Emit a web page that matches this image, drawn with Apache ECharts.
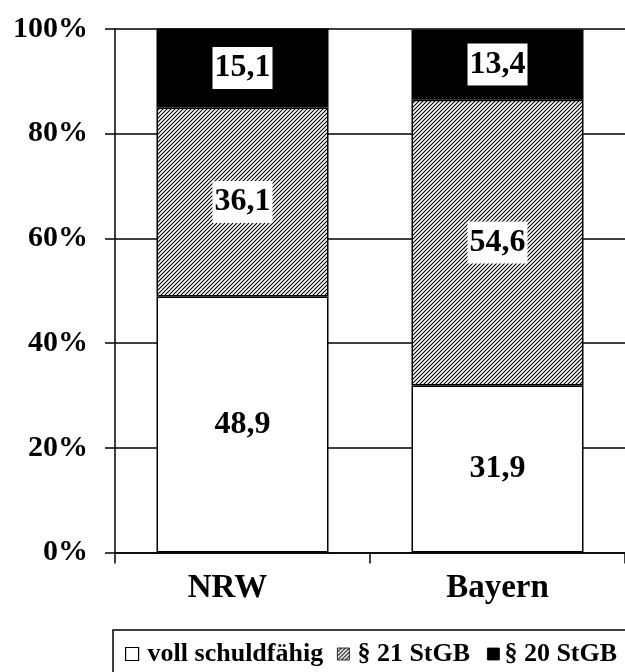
<!DOCTYPE html>
<html>
<head>
<meta charset="utf-8">
<script src="https://cdn.jsdelivr.net/npm/echarts@6/dist/echarts.min.js"></script>
<style>html,body{margin:0;padding:0;background:#fff}#c{width:625px;height:672px}</style>
</head>
<body>
<div id="c"></div>
<script>
var categories = ['NRW', 'Bayern'];
var seriesNames = ['voll schuldfähig', '§ 21 StGB', '§ 20 StGB'];
var vollSchuldfaehig = [48.9, 31.9];
var par21 = [36.1, 54.6];
var par20 = [15.1, 13.4];
var yTicks = [0, 20, 40, 60, 80, 100];

var FONT = '"Liberation Serif", "Times New Roman", serif';

function hatch() {
  var c = document.createElement('canvas');
  c.width = 4; c.height = 4;
  var g = c.getContext('2d');
  g.fillStyle = '#fff'; g.fillRect(0, 0, 4, 4);
  g.strokeStyle = '#000'; g.lineWidth = 1.1;
  g.beginPath();
  g.moveTo(-1, 5); g.lineTo(5, -1);
  g.moveTo(-1, 1); g.lineTo(1, -1);
  g.moveTo(3, 5); g.lineTo(5, 3);
  g.stroke();
  return c;
}
var hatchColor = { image: hatch(), repeat: 'repeat' };

function fmt(p) { return String(p.value).replace('.', ','); }

var boxLabel = {
  show: true, position: 'inside', formatter: fmt,
  fontFamily: FONT, fontWeight: 'bold', fontSize: 32, color: '#000',
  backgroundColor: '#fff', padding: [6, 2, 4, 2], lineHeight: 32
};

var legendText = { fontFamily: FONT, fontWeight: 'bold', fontSize: 26, color: '#000' };

var chart = echarts.init(document.getElementById('c'));
chart.setOption({
  animation: false,
  backgroundColor: '#fff',
  grid: { left: 115, top: 29, right: -4, bottom: 119.5 },
  graphic: [{
    type: 'rect', shape: { x: 113, y: 630, width: 530, height: 60 },
    style: { fill: 'none', stroke: '#000', lineWidth: 1.5 }, z: 1
  }],
  legend: [
    { data: [seriesNames[0]], left: 125, top: 641, padding: 0, icon: 'rect', itemWidth: 13, itemHeight: 13, itemGap: 0,
      textStyle: Object.assign({ padding: [0, 0, 0, 4] }, legendText),
      itemStyle: { color: '#fff', borderColor: '#000', borderWidth: 1.2 } },
    { data: [seriesNames[1]], left: 337, top: 641, padding: 0, icon: 'rect', itemWidth: 12, itemHeight: 12, itemGap: 0,
      textStyle: Object.assign({ padding: [0, 0, 0, 3] }, legendText),
      itemStyle: { color: hatchColor, borderColor: '#000', borderWidth: 0.8 } },
    { data: [seriesNames[2]], left: 487, top: 641, padding: 0, icon: 'rect', itemWidth: 12, itemHeight: 12, itemGap: 0,
      textStyle: Object.assign({ padding: [0, 0, 0, 0] }, legendText),
      itemStyle: { color: '#000', borderColor: '#000', borderWidth: 0.8 } }
  ],
  xAxis: {
    type: 'category',
    data: [{ value: categories[0], textStyle: { padding: [0, 30, 0, 0] } }, categories[1]],
    axisLine: { lineStyle: { color: '#000', width: 1.5 } },
    axisTick: { show: true, length: 11, lineStyle: { color: '#000', width: 1.5 } },
    axisLabel: { fontFamily: FONT, fontWeight: 'bold', fontSize: 33, color: '#000', margin: 19 },
    splitLine: { show: false }
  },
  yAxis: {
    type: 'value', min: 0, max: 100, interval: 20,
    axisLine: { show: true, lineStyle: { color: '#000', width: 1.5 } },
    axisTick: { show: true, length: 10, lineStyle: { color: '#000', width: 1.5 } },
    axisLabel: {
      fontFamily: FONT, fontWeight: 'bold', fontSize: 30, color: '#000', margin: 27,
      padding: [0, 0, 10, 0],
      formatter: function (v) { return yTicks.indexOf(v) >= 0 ? v + '%' : ''; }
    },
    splitLine: { show: true, lineStyle: { color: '#000', width: 1.5 } }
  },
  series: [
    { name: seriesNames[0], type: 'bar', stack: 'a', data: vollSchuldfaehig, barWidth: 172,
      itemStyle: { color: '#fff', borderColor: '#000', borderWidth: 1.5 },
      label: { show: true, position: 'inside', formatter: fmt, fontFamily: FONT, fontWeight: 'bold', fontSize: 32, color: '#000' } },
    { name: seriesNames[1], type: 'bar', stack: 'a', data: par21, barWidth: 172,
      itemStyle: { color: hatchColor, borderColor: '#000', borderWidth: 1.5 },
      label: boxLabel },
    { name: seriesNames[2], type: 'bar', stack: 'a', data: par20, barWidth: 172,
      itemStyle: { color: '#000', borderColor: '#000', borderWidth: 1.5 },
      label: boxLabel }
  ]
});
</script>
</body>
</html>
